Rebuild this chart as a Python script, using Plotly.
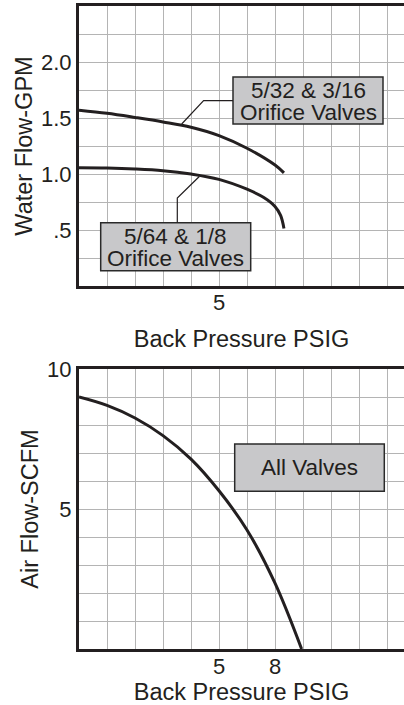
import plotly.graph_objects as go

# ---------------- data (x in grid-cell units of back pressure) ----------------
top_x_upper = [0, 1, 2, 3, 4, 5, 6, 7, 7.32]
top_y_upper = [1.57, 1.542, 1.505, 1.465, 1.418, 1.343, 1.23, 1.08, 1.01]
top_x_lower = [0, 1, 2, 3, 4, 5, 6, 6.6, 7, 7.2, 7.32]
top_y_lower = [1.055, 1.053, 1.045, 1.03, 1.0, 0.952, 0.864, 0.79, 0.71, 0.63, 0.513]

bot_x = [0, 1, 2, 3, 4, 5, 6, 7, 7.95]
bot_y = [9.0, 8.7, 8.25, 7.62, 6.78, 5.65, 4.25, 2.35, 0.0]

# tick positions (grid) and labels
x_grid = list(range(0, 12))
top_x_ticktext = ["", "", "", "", "", "5", "", "", "", "", "", ""]
bot_x_ticktext = ["", "", "", "", "", "5", "", "8", "", "", "", ""]
top_y_grid = [0, 0.25, 0.5, 0.75, 1.0, 1.25, 1.5, 1.75, 2.0, 2.25, 2.5]
top_y_ticktext = ["", "", ".5", "", "1.0", "", "1.5", "", "2.0", "", ""]
bot_y_grid = list(range(0, 11))
bot_y_ticktext = ["", "", "", "", "", "5", "", "", "", "", "10"]

label_upper = ["5/32 & 3/16", "Orifice Valves"]
label_lower = ["5/64 & 1/8", "Orifice Valves"]
label_air = "All Valves"

x_title = "Back Pressure PSIG"
y_title_top = "Water Flow-GPM"
y_title_bot = "Air Flow-SCFM"

# ---------------- style ----------------
FONT = "Liberation Sans, Arial, Helvetica, sans-serif"
INK = "#231f20"
GRID = "#b4b4b4"
BOXFILL = "#c8c8ca"
W, H = 404, 705
ML, MR, MT, MB = 79, 0, 6, 56
plot_h = H - MT - MB
plot_w = W - ML - MR
cell = 28.0
TITLE_SIZE = 23.5
TICK_SIZE = 22


def ypaper(py):
    return (H - MB - py) / plot_h


x_range = [0, plot_w / cell]

fig = go.Figure()
line_style = dict(color=INK, width=3, shape="spline", smoothing=1.0)
fig.add_trace(go.Scatter(x=top_x_upper, y=top_y_upper, mode="lines", line=line_style,
                         xaxis="x", yaxis="y", name=" ".join(label_upper)))
fig.add_trace(go.Scatter(x=top_x_lower, y=top_y_lower, mode="lines", line=line_style,
                         xaxis="x", yaxis="y", name=" ".join(label_lower)))
fig.add_trace(go.Scatter(x=bot_x, y=bot_y, mode="lines", line=line_style,
                         xaxis="x2", yaxis="y2", name=label_air))

axis_common = dict(showgrid=True, gridcolor=GRID, gridwidth=1, zeroline=False,
                   showline=True, linecolor=INK, linewidth=3, ticks="",
                   tickfont=dict(family=FONT, size=TICK_SIZE, color=INK),
                   fixedrange=True, automargin=False)
title_font = dict(family=FONT, size=TITLE_SIZE, color=INK)

fig.update_layout(
    width=W, height=H,
    margin=dict(l=ML, r=MR, t=MT, b=MB, pad=0, autoexpand=False),
    paper_bgcolor="white", plot_bgcolor="white",
    showlegend=False,
    font=dict(family=FONT, color=INK),
    xaxis=dict(axis_common, domain=[0, 1], range=x_range, anchor="y",
               tickmode="array", tickvals=x_grid, ticktext=top_x_ticktext,
               mirror=True, ticklabelstandoff=-5,
               title=dict(text=x_title, font=title_font, standoff=17)),
    yaxis=dict(axis_common, domain=[ypaper(286), 1], range=[0, 2.5], anchor="x",
               tickmode="array", tickvals=top_y_grid, ticktext=top_y_ticktext,
               title=dict(text=y_title_top, font=title_font, standoff=2)),
    xaxis2=dict(axis_common, domain=[0, 1], range=x_range, anchor="y2",
                tickmode="array", tickvals=x_grid, ticktext=bot_x_ticktext,
                mirror=True, ticklabelstandoff=-4,
                title=dict(text=x_title, font=title_font, standoff=5)),
    yaxis2=dict(axis_common, domain=[0, ypaper(369)], range=[0, 10], anchor="x2",
                tickmode="array", tickvals=bot_y_grid, ticktext=bot_y_ticktext,
                title=dict(text=y_title_bot, font=title_font, standoff=2)),
)

# pixel -> data helpers for callout placement
def tx(px):
    return (px - ML) / cell


def ty(py):
    return (286 - py) / (cell * 4)


def by(py):
    return (649 - py) / cell


box_line = dict(color="#2a2a2a", width=1.5)
leader = dict(color=INK, width=1.2)

# upper callout
fig.add_shape(type="rect", xref="x", yref="y", x0=tx(233), x1=tx(383), y0=ty(124), y1=ty(77),
              fillcolor=BOXFILL, line=box_line, layer="above")
fig.add_shape(type="path", xref="x", yref="y",
              path=f"M {tx(181.7)},{ty(124)} L {tx(203.6)},{ty(100.7)} L {tx(233)},{ty(100.7)}",
              line=leader)
# lower callout
fig.add_shape(type="rect", xref="x", yref="y", x0=tx(100.7), x1=tx(250.7), y0=ty(270.7), y1=ty(222.7),
              fillcolor=BOXFILL, line=box_line, layer="above")
fig.add_shape(type="path", xref="x", yref="y",
              path=f"M {tx(199.3)},{ty(176.5)} L {tx(177.3)},{ty(198)} L {tx(177.3)},{ty(222.7)}",
              line=leader)
# air callout
fig.add_shape(type="rect", xref="x2", yref="y2", x0=tx(234.7), x1=tx(384.3), y0=by(491.3), y1=by(444),
              fillcolor=BOXFILL, line=box_line, layer="above")

txt_font = dict(family=FONT, size=22.5, color=INK)
fig.add_annotation(x=tx(308), y=ty(90), xref="x", yref="y", text=label_upper[0],
                   showarrow=False, font=txt_font, xanchor="center", yanchor="middle")
fig.add_annotation(x=tx(308), y=ty(112), xref="x", yref="y", text=label_upper[1],
                   showarrow=False, font=txt_font, xanchor="center", yanchor="middle")
fig.add_annotation(x=tx(175.7), y=ty(236), xref="x", yref="y", text=label_lower[0],
                   showarrow=False, font=txt_font, xanchor="center", yanchor="middle")
fig.add_annotation(x=tx(175.7), y=ty(258), xref="x", yref="y", text=label_lower[1],
                   showarrow=False, font=txt_font, xanchor="center", yanchor="middle")
fig.add_annotation(x=tx(309.5), y=by(467), xref="x2", yref="y2", text=label_air,
                   showarrow=False, font=txt_font, xanchor="center", yanchor="middle")

fig.write_html("out.html", config={"displayModeBar": False},
               post_script="document.body.style.margin='0';document.body.style.padding='0';")
